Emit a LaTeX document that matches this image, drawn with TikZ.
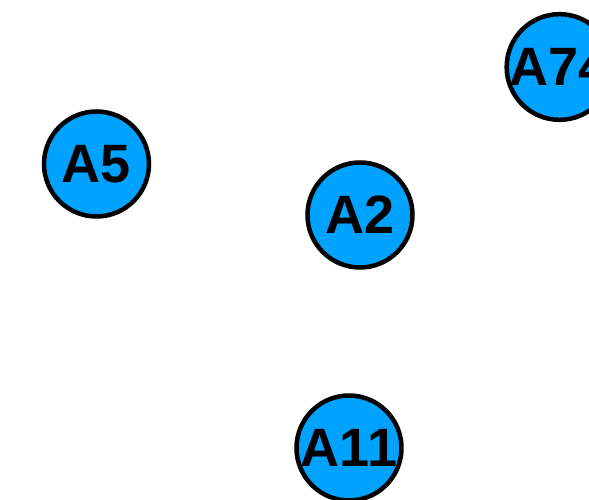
\documentclass[tikz,border=0pt]{standalone}
\usepackage{fontspec}
\setmainfont{Liberation Sans}
\usepackage{tikz}

\definecolor{atomblue}{RGB}{0,162,255}

\begin{document}
\begin{tikzpicture}[x=1pt,y=1pt]
                \useasboundingbox (0,0) rectangle (589,500);
                \clip (0,0) rectangle (589,500);
                \begin{scope}[every node/.style={draw,circle,line width=4.5pt,fill=atomblue,minimum size=105pt,inner sep=0,font=\fontsize{54}{60}\selectfont\bfseries}]
                        \node (A5) at (96.5,336) {A5};
                        \node (A2) at (360,285) {A2};
                        \node (A74) at (559.5,433) {A74};
                        \node (A11) at (349,52) {A11};
                \end{scope}
        \end{tikzpicture}
\end{document}
